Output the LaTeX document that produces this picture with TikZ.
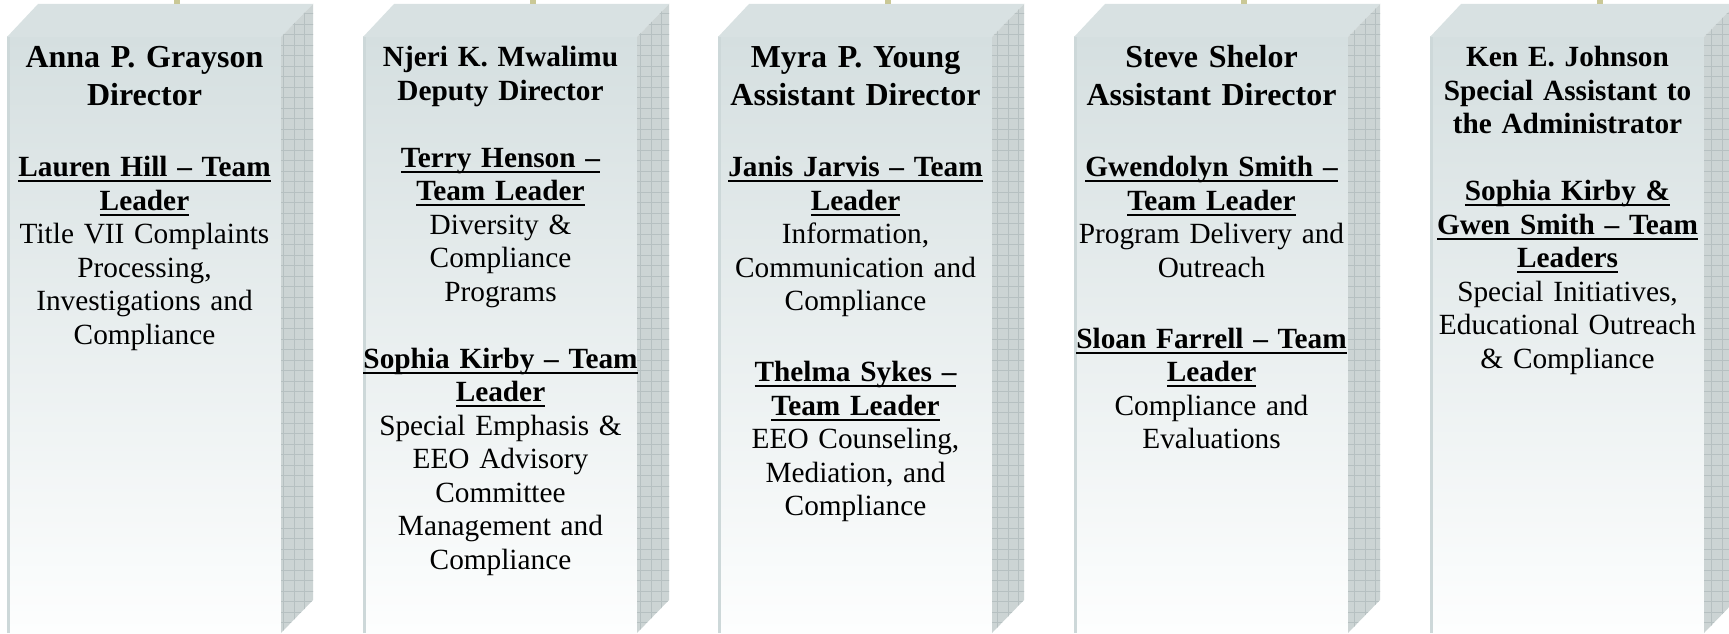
\documentclass[tikz,border=0pt]{standalone}
\usepackage{fontspec}
\setmainfont{Liberation Serif}
\definecolor{topface}{RGB}{216,225,226}
\definecolor{fronttop}{RGB}{213,223,224}
\definecolor{frontbot}{RGB}{253,254,254}
\definecolor{sideface}{RGB}{204,212,212}
\definecolor{sidegrid}{RGB}{182,192,193}
\definecolor{edgecol}{RGB}{205,216,217}
\definecolor{stubcol}{RGB}{202,200,150}
\newcommand\ulx[1]{\leavevmode\setbox0=\hbox{\bfseries #1}\rlap{\rule[-5.5pt]{\wd0}{2pt}}\box0}
\newcommand\hbig{\fontsize{32}{37.5}\selectfont\bfseries\spaceskip=0.25em plus 0.1em\relax}
\newcommand\hsmall{\fontsize{29.3}{33.5}\selectfont\bfseries\spaceskip=0.25em plus 0.1em\relax}
\newcommand\bodyf{\fontsize{29.3}{33.5}\selectfont\spaceskip=0.25em plus 0.1em\relax}
\begin{document}
\begin{tikzpicture}[x=1pt,y=1pt,
  txt/.style={anchor=base, inner sep=0pt, text width=330pt, align=center, font=\bodyf},
  headbig/.style={txt, font=\hbig},
  headsmall/.style={txt, font=\hsmall},
  stub/.style={draw=stubcol, line width=6pt}]
\useasboundingbox (0,0) rectangle (1729,633);
\fill[white] (0,0) rectangle (1729,633);
\clip (0,0) rectangle (1729,633);
\foreach \L [count=\i] in {7,363,718,1074,1430} {
  % front face
  \shade[top color=fronttop, bottom color=frontbot] (\L,0) rectangle (\L+274,596);
  \fill[edgecol] (\L,0) rectangle (\L+2.5,596);
  % top face
  \fill[topface] (\L,596) -- (\L+31,629) -- (\L+306,629) -- (\L+274,596) -- cycle;
  % side face
  \begin{scope}
    \clip (\L+274,596) -- (\L+306,629) -- (\L+306,33) -- (\L+274,0) -- cycle;
    \fill[sideface] (\L+270,0) rectangle (\L+310,633);
    \draw[sidegrid, line width=0.8pt] (\L+270,0) grid[step=10.5] (\L+310,633);
  \end{scope}
  % connector stub
  \coordinate (stubA\i) at (\L+170,629);
  \coordinate (stubB\i) at (\L+170,633);
  \draw[stub] (stubA\i) -- (stubB\i);
}
% Box 1
\node[headbig] (h1) at (144.5,565) {Anna P. Grayson\\Director\par};
\node[txt] (b1) at (144.5,456) {\ulx{Lauren Hill – Team}\\\ulx{Leader}\\Title VII Complaints\\Processing,\\Investigations and\\Compliance\par};
% Box 2
\node[headsmall] (h2) at (500.5,566) {Njeri K. Mwalimu\\Deputy Director\par};
\node[txt] (b2) at (500.5,465.5) {\ulx{Terry Henson –}\\\ulx{Team Leader}\\Diversity \&\\Compliance\\Programs\\[33.5pt]\ulx{Sophia Kirby – Team}\\\ulx{Leader}\\Special Emphasis \&\\EEO Advisory\\Committee\\Management and\\Compliance\par};
% Box 3
\node[headbig] (h3) at (855.5,565) {Myra P. Young\\Assistant Director\par};
\node[txt] (b3) at (855.5,456) {\ulx{Janis Jarvis – Team}\\\ulx{Leader}\\Information,\\Communication and\\Compliance\\[37.5pt]\ulx{Thelma Sykes –}\\\ulx{Team Leader}\\EEO Counseling,\\Mediation, and\\Compliance\par};
% Box 4
\node[headbig] (h4) at (1211.5,565) {Steve Shelor\\Assistant Director\par};
\node[txt] (b4) at (1211.5,456) {\ulx{Gwendolyn Smith –}\\\ulx{Team Leader}\\Program Delivery and\\Outreach\\[37.5pt]\ulx{Sloan Farrell – Team}\\\ulx{Leader}\\Compliance and\\Evaluations\par};
% Box 5
\node[headsmall] (h5) at (1567.5,566) {Ken E. Johnson\\Special Assistant to\\the Administrator\par};
\node[txt] (b5) at (1567.5,432) {\ulx{Sophia Kirby \&}\\\ulx{Gwen Smith – Team}\\\ulx{Leaders}\\Special Initiatives,\\Educational Outreach\\\& Compliance\par};
\end{tikzpicture}
\end{document}
